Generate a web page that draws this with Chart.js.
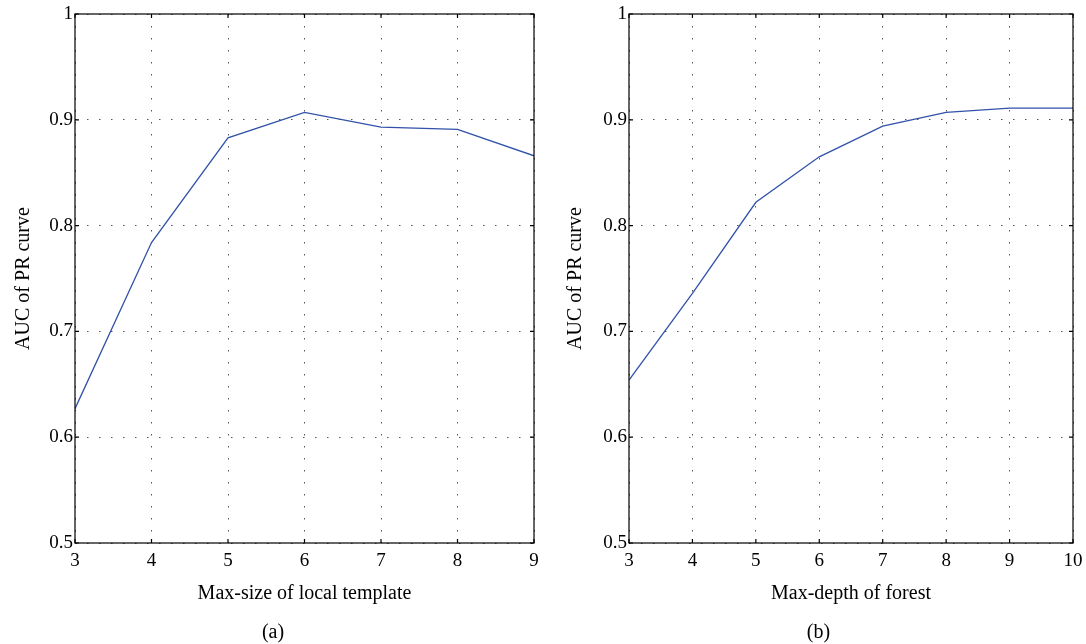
<!DOCTYPE html>
<html>
<head>
<meta charset="utf-8">
<script src="https://cdn.jsdelivr.net/npm/chart.js@4.4.0/dist/chart.umd.min.js"></script>
<style>
body{margin:0;background:#fff;}
#wrap{position:relative;width:1086px;height:644px;}
canvas{position:absolute;top:0;}
</style>
</head>
<body>
<div id="wrap">
<canvas id="graficoA" width="543" height="644" style="left:0"></canvas>
<canvas id="graficoB" width="543" height="644" style="left:543px"></canvas>
</div>
<script>
// dados
const templateSizes = [3, 4, 5, 6, 7, 8, 9]
const aucTemplate = [0.627, 0.784, 0.883, 0.907, 0.893, 0.891, 0.866]
const forestDepths = [3, 4, 5, 6, 7, 8, 9, 10]
const aucForest = [0.654, 0.736, 0.822, 0.865, 0.894, 0.907, 0.911, 0.911]
const yTickLabels = ['0.5', '0.6', '0.7', '0.8', '0.9', '1']

const fonte = 'Liberation Serif'
Chart.defaults.font.family = fonte
Chart.defaults.color = '#000'

// moldura com marcas para dentro (estilo matlab)
const moldura = {
  id: 'moldura',
  afterDraw(chart) {
    const {ctx, chartArea: a, scales} = chart
    ctx.save()
    ctx.strokeStyle = '#000'
    ctx.lineWidth = 1.2
    ctx.strokeRect(a.left, a.top, a.right - a.left, a.bottom - a.top)
    ctx.beginPath()
    scales.x.ticks.forEach(t => {
      const px = scales.x.getPixelForValue(t.value)
      ctx.moveTo(px, a.bottom); ctx.lineTo(px, a.bottom - 4)
      ctx.moveTo(px, a.top); ctx.lineTo(px, a.top + 4)
    })
    scales.y.ticks.forEach(t => {
      const py = scales.y.getPixelForValue(t.value)
      ctx.moveTo(a.left, py); ctx.lineTo(a.left + 4, py)
      ctx.moveTo(a.right, py); ctx.lineTo(a.right - 4, py)
    })
    ctx.stroke()
    ctx.restore()
  }
}

function montarGrafico(canvas, xs, ys, xTitulo, legenda, padEsq, padDir, larguraY) {
  return new Chart(canvas, {
    type: 'line',
    data: {
      datasets: [{
        data: xs.map((x, i) => ({x: x, y: ys[i]})),
        borderColor: '#3152a8',
        borderWidth: 1.3,
        pointRadius: 0,
        tension: 0,
        fill: false
      }]
    },
    options: {
      responsive: false,
      animation: false,
      layout: {padding: {left: padEsq, right: padDir, top: 14, bottom: 0}},
      plugins: {
        legend: {display: false},
        tooltip: {enabled: false},
        title: {
          display: true,
          text: legenda,
          position: 'bottom',
          font: {size: 20, weight: 'normal', lineHeight: 1.1},
          padding: {top: 16, bottom: 0}
        }
      },
      scales: {
        x: {
          type: 'linear',
          min: xs[0],
          max: xs[xs.length - 1],
          afterFit(scale) {
            scale.height = 63
            scale.paddingLeft = 0
            scale.paddingRight = 0
          },
          ticks: {stepSize: 1, padding: 7, font: {size: 19}, maxRotation: 0},
          grid: {color: '#555', lineWidth: 1, drawTicks: false},
          border: {display: false, dash: [1.5, 10.5]},
          title: {display: true, text: xTitulo, font: {size: 20}, padding: {top: 0, bottom: 0}}
        },
        y: {
          min: 0.5,
          max: 1,
          afterFit(scale) { scale.width = larguraY },
          ticks: {
            stepSize: 0.1,
            padding: 2,
            font: {size: 19},
            callback: (v, i) => yTickLabels[i]
          },
          grid: {color: '#555', lineWidth: 1, drawTicks: false},
          border: {display: false, dash: [1.5, 10.5]},
          title: {display: true, text: 'AUC of PR curve', font: {size: 20}, padding: 0}
        }
      }
    },
    plugins: [moldura]
  })
}

montarGrafico(document.getElementById('graficoA'), templateSizes, aucTemplate,
  'Max-size of local template', '(a)', 12, 9, 63)
montarGrafico(document.getElementById('graficoB'), forestDepths, aucForest,
  'Max-depth of forest', '(b)', 21, 13, 65)
</script>
</body>
</html>
